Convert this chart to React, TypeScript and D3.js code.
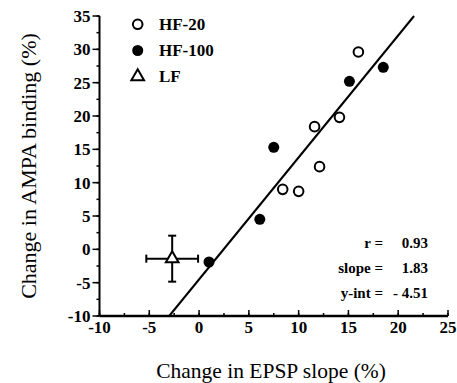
import React from "react";
import * as d3 from "d3";

const hf20X = [8.4, 10.0, 11.6, 12.1, 14.1, 16.0];
const hf20Y = [9.0, 8.7, 18.4, 12.4, 19.8, 29.6];
const hf100X = [1.0, 6.1, 7.5, 15.1, 18.5];
const hf100Y = [-1.9, 4.5, 15.3, 25.2, 27.3];
const lfX = [-2.7];
const lfY = [-1.4];
const lfErrX = [2.6];
const lfErrY = [3.45];
const fitSlope = 1.83;
const fitIntercept = -4.51;
const xTicks = [-10, -5, 0, 5, 10, 15, 20, 25];
const yTicks = [-10, -5, 0, 5, 10, 15, 20, 25, 30, 35];
const legendLabels = ["HF-20", "HF-100", "LF"];
const statLabels = ["r =", "slope =", "y-int ="];
const statValues = ["0.93", "1.83", "- 4.51"];

const W = 457;
const H = 383;
const FONT = "Liberation Serif, DejaVu Serif, serif";

export default function App() {
  const x = d3.scaleLinear().domain([-10, 25]).range([99.5, 448]);
  const y = d3.scaleLinear().domain([-10, 35]).range([316, 16]);
  const xMinor = d3.range(-10, 25.01, 2.5);
  const yMinor = d3.range(-10, 35.01, 2.5);
  const x0 = (-10 - fitIntercept) / fitSlope;
  const x1 = (35 - fitIntercept) / fitSlope;
  const line = d3.line<[number, number]>().x((d) => x(d[0])).y((d) => y(d[1]));
  const tri = d3.symbol().type(d3.symbolTriangle).size(70)();

  return (
    <svg width={W} height={H} style={{ position: "absolute", left: 0, top: 0, background: "#fff", fontFamily: FONT }}>
      <rect width={W} height={H} fill="#fff" />
      {/* axes */}
      <line x1={x(-10)} x2={x(-10)} y1={y(35)} y2={y(-10)} stroke="#000" strokeWidth={2} />
      <line x1={x(-10)} x2={x(25)} y1={y(-10)} y2={y(-10)} stroke="#000" strokeWidth={2.5} />
      {yMinor.map((v) => (
        <line key={"ym" + v} x1={x(-10) - 3} x2={x(-10)} y1={y(v)} y2={y(v)} stroke="#000" strokeWidth={1.5} />
      ))}
      {yTicks.map((v) => (
        <g key={"yt" + v}>
          <line x1={x(-10) - 7} x2={x(-10)} y1={y(v)} y2={y(v)} stroke="#000" strokeWidth={1.5} />
          <text x={x(-10) - 9} y={y(v)} dy="0.35em" textAnchor="end" fontSize={17} fontWeight="bold">
            {v}
          </text>
        </g>
      ))}
      {xMinor.map((v) => (
        <line key={"xm" + v} x1={x(v)} x2={x(v)} y1={y(-10)} y2={y(-10) - 3} stroke="#000" strokeWidth={1.5} />
      ))}
      {xTicks.map((v) => (
        <g key={"xt" + v}>
          <line x1={x(v)} x2={x(v)} y1={y(-10)} y2={y(-10) - 6} stroke="#000" strokeWidth={1.5} />
          <text x={x(v)} y={y(-10) + 17} textAnchor="middle" fontSize={17} fontWeight="bold">
            {v}
          </text>
        </g>
      ))}
      {/* axis titles */}
      <text x={271} y={378} textAnchor="middle" fontSize={21.5}>
        Change in EPSP slope (%)
      </text>
      <text transform={`translate(36,166) rotate(-90)`} textAnchor="middle" fontSize={22}>
        Change in AMPA binding (%)
      </text>
      {/* fit line */}
      <path d={line([[x0, -10], [x1, 35]]) || ""} stroke="#000" strokeWidth={2} fill="none" />
      {/* LF error bars */}
      {lfX.map((vx, i) => (
        <g key={"lf" + i} stroke="#000" strokeWidth={2}>
          <line x1={x(vx - lfErrX[i])} x2={x(vx + lfErrX[i])} y1={y(lfY[i])} y2={y(lfY[i])} />
          <line x1={x(vx - lfErrX[i])} x2={x(vx - lfErrX[i])} y1={y(lfY[i]) - 4} y2={y(lfY[i]) + 4} />
          <line x1={x(vx + lfErrX[i])} x2={x(vx + lfErrX[i])} y1={y(lfY[i]) - 4} y2={y(lfY[i]) + 4} />
          <line x1={x(vx)} x2={x(vx)} y1={y(lfY[i] - lfErrY[i])} y2={y(lfY[i] + lfErrY[i])} />
          <line x1={x(vx) - 4} x2={x(vx) + 4} y1={y(lfY[i] - lfErrY[i])} y2={y(lfY[i] - lfErrY[i])} />
          <line x1={x(vx) - 4} x2={x(vx) + 4} y1={y(lfY[i] + lfErrY[i])} y2={y(lfY[i] + lfErrY[i])} />
          <path d={tri || ""} transform={`translate(${x(vx)},${y(lfY[i])})`} fill="#fff" strokeWidth={2} />
        </g>
      ))}
      {/* points */}
      {hf20X.map((vx, i) => (
        <circle key={"o" + i} cx={x(vx)} cy={y(hf20Y[i])} r={4.8} fill="#fff" stroke="#000" strokeWidth={2} />
      ))}
      {hf100X.map((vx, i) => (
        <circle key={"f" + i} cx={x(vx)} cy={y(hf100Y[i])} r={5.5} fill="#000" />
      ))}
      {/* legend */}
      <circle cx={137.7} cy={24.3} r={4.8} fill="#fff" stroke="#000" strokeWidth={2} />
      <circle cx={137.7} cy={50.5} r={5.5} fill="#000" />
      <path d={tri || ""} transform="translate(137.7,76.5)" fill="#fff" stroke="#000" strokeWidth={2} />
      {legendLabels.map((l, i) => (
        <text key={l} x={159} y={24.5 + i * 26} dy="0.35em" fontSize={17} fontWeight="bold">
          {l}
        </text>
      ))}
      {/* stats */}
      {statLabels.map((l, i) => (
        <g key={l}>
          <text x={383} y={243 + i * 25} dy="0.35em" textAnchor="end" fontSize={15} fontWeight="bold">
            {l}
          </text>
          <text x={428} y={243 + i * 25} dy="0.35em" textAnchor="end" fontSize={15} fontWeight="bold">
            {statValues[i]}
          </text>
        </g>
      ))}
    </svg>
  );
}
